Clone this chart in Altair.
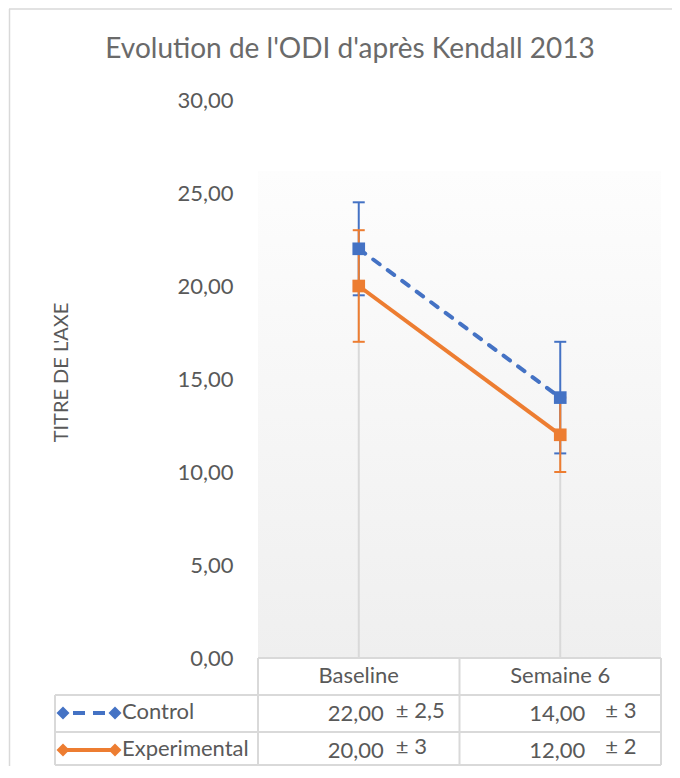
import altair as alt
import pandas as pd

# ---------------- data ----------------
TITLE = "Evolution de l'ODI d'après Kendall 2013"
Y_TITLE = "TITRE DE L'AXE"
categories = ["Baseline", "Semaine 6"]
series = ["Control", "Experimental"]
control = [22.0, 14.0]
experimental = [20.0, 12.0]
control_err = [2.5, 3.0]
experimental_err = [3.0, 2.0]
y_ticks = [0, 5, 10, 15, 20, 25, 30]

colors = {"Control": "#4472C4", "Experimental": "#ED7D31"}

rows = []
for s, vals, errs in [("Control", control, control_err),
                      ("Experimental", experimental, experimental_err)]:
    for c, v, e in zip(categories, vals, errs):
        rows.append({"series": s, "cat": c, "value": v, "err": e})
df = pd.DataFrame(rows)

# ---------------- styling ----------------
FONT = "Lato"
GREY = "#595959"
LINE_GREY = "#d9d9d9"
W, H = 403, 558
PAD_R = 11
PAD_B = 108
FS = 22

xscale = alt.Scale(type="point", domain=categories, padding=0.5)
yscale = alt.Scale(domain=[0, 30], nice=False, zero=True)
X = alt.X("cat:N", scale=xscale, axis=None)
yaxis = alt.Axis(
    values=y_ticks,
    labelExpr="replace(format(datum.value, '.2f'), '.', ',')",
    labelFont=FONT, labelFontSize=FS, labelColor=GREY, labelPadding=25,
    ticks=False, domain=False, grid=False,
    title=Y_TITLE, titleFont=FONT, titleFontSize=20, titleFontWeight="normal",
    titleColor=GREY, titleAngle=270, titleX=-191, titleY=272,
    titleAlign="center", titleBaseline="alphabetic",
)


def Y(field):
    return alt.Y(field, scale=yscale, axis=yaxis)


base = alt.Chart(df)
one = pd.DataFrame({"k": [0]})
layers = []

# outer chart border (top and left)
layers.append(alt.Chart(one).mark_rule(color=LINE_GREY, strokeWidth=1.5).encode(
    x=alt.value(-249), x2=alt.value(W + PAD_R), y=alt.value(-91)))
layers.append(alt.Chart(one).mark_rule(color=LINE_GREY, strokeWidth=1.5).encode(
    x=alt.value(-248.5), y=alt.value(-91), y2=alt.value(H + PAD_B)))

# plot area gradient
grad = alt.LinearGradient(
    gradient="linear", x1=0, x2=0, y1=0, y2=1,
    stops=[alt.GradientStop(color="#fdfdfd", offset=0),
           alt.GradientStop(color="#efefef", offset=1)])
layers.append(alt.Chart(one).mark_rect(color=grad).encode(
    x=alt.value(0), x2=alt.value(W), y=alt.value(71), y2=alt.value(H)))

# drop lines
layers.append(base.transform_aggregate(top="max(value)", groupby=["cat"])
              .mark_rule(color=LINE_GREY, strokeWidth=2)
              .encode(x=X, y=Y("top:Q"), y2=alt.datum(0)))

# error bars
err = base.transform_calculate(lo="datum.value - datum.err", hi="datum.value + datum.err")
for s in series:
    f = alt.datum.series == s
    e = err.transform_filter(f)
    layers.append(e.mark_rule(color=colors[s], strokeWidth=2).encode(
        x=X, y=Y("lo:Q"), y2="hi:Q"))
    for fld in ["lo:Q", "hi:Q"]:
        layers.append(e.mark_tick(color=colors[s], size=12, thickness=2,
                                  orient="horizontal", opacity=1).encode(x=X, y=Y(fld)))

# lines
for s in series:
    f = alt.datum.series == s
    kw = dict(color=colors[s], strokeWidth=4)
    if s == "Control":
        kw.update(strokeDash=[8, 10], strokeCap="round")
    layers.append(base.transform_filter(f).mark_line(**kw).encode(x=X, y=Y("value:Q")))

# markers
for s in series:
    f = alt.datum.series == s
    layers.append(base.transform_filter(f).mark_point(
        shape="square", filled=True, size=160, opacity=1, color=colors[s]
    ).encode(x=X, y=Y("value:Q")))

# title
layers.append(alt.Chart(pd.DataFrame({"t": [TITLE]})).mark_text(
    font=FONT, fontSize=28, color="#6a6a6a", align="center", baseline="alphabetic"
).encode(x=alt.value(92), y=alt.value(-42), text="t:N"))

# ---------------- data table ----------------
def hrule(y, x1, x2):
    return alt.Chart(one).mark_rule(color=LINE_GREY, strokeWidth=2).encode(
        x=alt.value(x1), x2=alt.value(x2), y=alt.value(y))


def vrule(x, y1, y2):
    return alt.Chart(one).mark_rule(color=LINE_GREY, strokeWidth=2).encode(
        x=alt.value(x), y=alt.value(y1), y2=alt.value(y2))


TB = H + PAD_B - 1  # table bottom line
layers += [
    hrule(H, 0, W), hrule(595, -203, W), hrule(632, -203, W), hrule(TB, -203, W),
    vrule(0, H, TB), vrule(W / 2, H, TB), vrule(W, H, TB), vrule(-203, 595, TB),
]

# header
layers.append(alt.Chart(pd.DataFrame({"cat": categories})).mark_text(
    font=FONT, fontSize=FS, color=GREY, align="center", baseline="alphabetic"
).encode(x=X, y=alt.value(583), text="cat:N"))

row_num_y = {"Control": 621, "Experimental": 658}
row_pm_y = {"Control": 618, "Experimental": 654}
row_lab_y = {"Control": 619, "Experimental": 656}
row_mid_y = {"Control": 613, "Experimental": 650}
pm_dx = {"Baseline": 37, "Semaine 6": 45}

for s in series:
    f = alt.datum.series == s
    t = base.transform_filter(f).transform_calculate(
        num="replace(format(datum.value, '.2f'), '.', ',')",
        pm="'± ' + replace('' + datum.err, '.', ',')")
    layers.append(t.mark_text(font=FONT, fontSize=FS, color=GREY, align="right",
                              baseline="alphabetic", dx=25).encode(
        x=X, y=alt.value(row_num_y[s]), text="num:N"))
    for c in categories:
        layers.append(t.transform_filter(alt.datum.cat == c).mark_text(
            font=FONT, fontSize=FS, color=GREY, align="left",
            baseline="alphabetic", dx=pm_dx[c]).encode(
            x=X, y=alt.value(row_pm_y[s]), text="pm:N"))
    # legend key
    sd = pd.DataFrame({"series": [s]})
    kw = dict(color=colors[s], strokeWidth=4)
    if s == "Control":
        kw.update(strokeDash=[12, 8], strokeDashOffset=-10)
    layers.append(alt.Chart(sd).mark_rule(**kw).encode(
        x=alt.value(-195), x2=alt.value(-143), y=alt.value(row_mid_y[s])))
    for xv in [-195, -143]:
        layers.append(alt.Chart(sd).mark_point(
            shape="diamond", filled=True, size=170, opacity=1, color=colors[s]
        ).encode(x=alt.value(xv), y=alt.value(row_mid_y[s])))
    layers.append(alt.Chart(sd).mark_text(
        font=FONT, fontSize=FS, color=GREY, align="left", baseline="alphabetic"
    ).encode(x=alt.value(-136), y=alt.value(row_lab_y[s]), text="series:N"))

chart = alt.layer(*layers).properties(
    width=W, height=H,
    padding={"left": 250, "top": 92, "right": PAD_R, "bottom": PAD_B},
    autosize=alt.AutoSizeParams(type="none"),
    background="white",
).configure_view(strokeWidth=0)

chart.save("out.html", embed_options={"renderer": "svg", "actions": False})
